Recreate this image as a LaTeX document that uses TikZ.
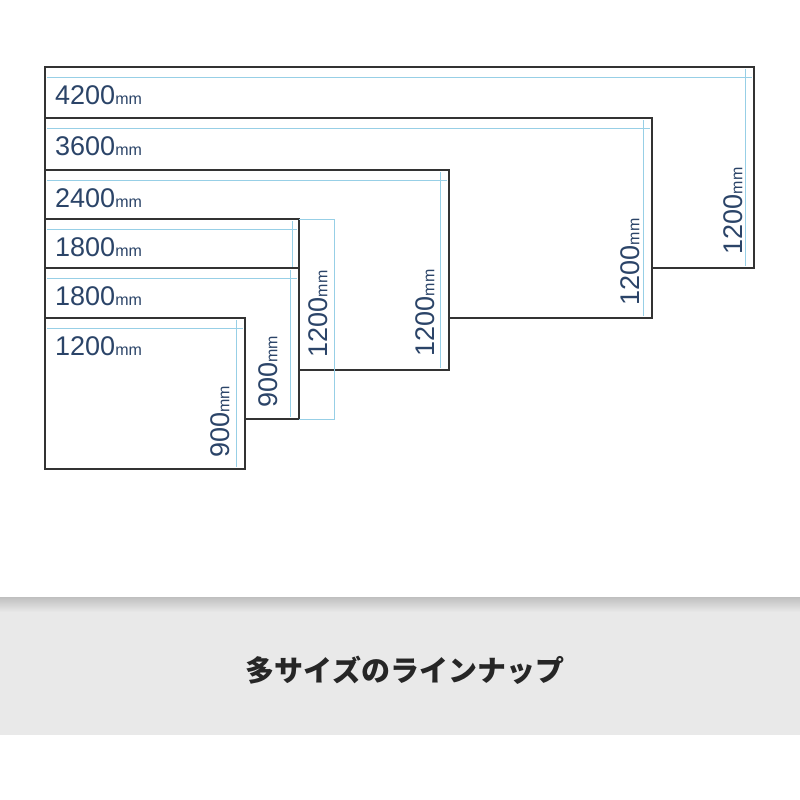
\documentclass[tikz,border=0pt]{standalone}
\usepackage{fontspec}
\setmainfont{Liberation Sans}
\newfontfamily\cjk{Noto Sans CJK JP}
\begin{document}
\begin{tikzpicture}[x=1pt,y=-1pt,
  panel/.style={draw=black!80,line width=1.4pt,fill=white},
  dim/.style={draw=cyan!60!teal!45,line width=0.7pt},
  lab/.style={text=numcol,inner sep=0pt,font=\fontsize{27}{27}\selectfont},
]
\definecolor{band}{HTML}{E9E9E9}
\definecolor{numcol}{HTML}{2B4468}
\useasboundingbox (0,0) rectangle (800,800);
\fill[white] (0,0) rectangle (800,800);
\fill[band] (0,610) rectangle (800,735);
\shade[top color=black!25,bottom color=band] (0,597) rectangle (800,612);
\node[font=\cjk\bfseries\fontsize{29}{29}\selectfont,text=black!85] (cap) at (405,670) {多サイズのラインナップ};
\newcommand{\pnl}[5]{% top right bottom label dimx
  \draw[panel] (45,#1) rectangle (#2,#3);
  \draw[dim] (47,#1+10) -- (#2-2,#1+10);
  \draw[dim] (#5,#1+2) -- (#5,#3-2);
  \node[lab,anchor=base west] at (55,#1+37) {#4\fontsize{16}{16}\selectfont mm};
}
\pnl{67}{754}{268}{4200}{745}
\pnl{118}{652}{318}{3600}{643}
\pnl{170}{449}{370}{2400}{440}
\pnl{219}{299}{269}{1800}{292}
\pnl{268}{299}{419}{1800}{290}
\pnl{318}{245}{469}{1200}{236}
\draw[dim] (299,219) -- (334,219) -- (334,419) -- (299,419);
\node[lab,rotate=90] at (733,211) {1200\fontsize{16}{16}\selectfont mm};
\node[lab,rotate=90] at (630,262) {1200\fontsize{16}{16}\selectfont mm};
\node[lab,rotate=90] at (425,313) {1200\fontsize{16}{16}\selectfont mm};
\node[lab,rotate=90] at (318,314) {1200\fontsize{16}{16}\selectfont mm};
\node[lab,rotate=90] at (268,372) {900\fontsize{16}{16}\selectfont mm};
\node[lab,rotate=90] at (220,422) {900\fontsize{16}{16}\selectfont mm};
\end{tikzpicture}
\end{document}
